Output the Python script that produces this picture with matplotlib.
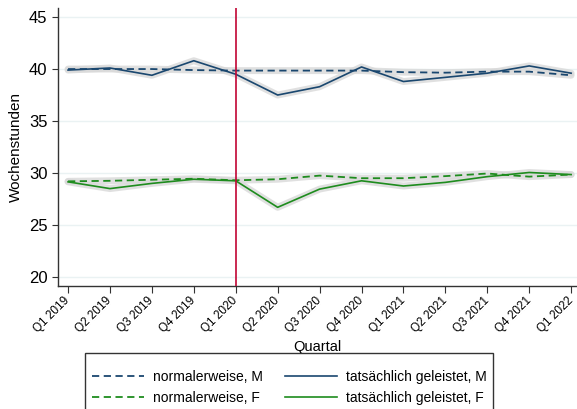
import matplotlib
matplotlib.use("Agg")
import matplotlib.pyplot as plt
from matplotlib.patches import Rectangle
import numpy as np

plt.rcParams["font.family"] = ["Liberation Sans", "DejaVu Sans"]

quarters = ["Q1 2019", "Q2 2019", "Q3 2019", "Q4 2019", "Q1 2020", "Q2 2020", "Q3 2020",
            "Q4 2020", "Q1 2021", "Q2 2021", "Q3 2021", "Q4 2021", "Q1 2022"]
normal_m = [40.0, 40.0, 40.0, 39.9, 39.85, 39.85, 39.85, 39.85, 39.7, 39.65, 39.75, 39.75, 39.4]
actual_m = [39.9, 40.1, 39.4, 40.8, 39.5, 37.5, 38.3, 40.2, 38.8, 39.2, 39.6, 40.3, 39.6]
normal_f = [29.2, 29.25, 29.35, 29.45, 29.3, 29.4, 29.75, 29.5, 29.5, 29.7, 29.95, 29.65, 29.85]
actual_f = [29.15, 28.5, 29.0, 29.4, 29.25, 26.7, 28.45, 29.25, 28.75, 29.1, 29.65, 30.05, 29.85]

blue = "#1a476f"
green = "#1e8c1e"
red = "#c10534"
x = np.arange(len(quarters))

fig = plt.figure(figsize=(5.77, 4.09), dpi=100)
ax = fig.add_axes([0.1005, 0.3007, 0.8995, 0.6797])

# light gray halo behind each line
for ys in (normal_m, actual_m, normal_f, actual_f):
    ax.plot(x, ys, color="#d9d9d9", lw=5, alpha=0.8, solid_capstyle="round", zorder=2)

l1, = ax.plot(x, normal_m, color=blue, lw=1.3, ls=(0, (4, 2.5)), zorder=3)
l2, = ax.plot(x, actual_m, color=blue, lw=1.2, zorder=3)
l3, = ax.plot(x, normal_f, color=green, lw=1.3, ls=(0, (4, 2.5)), zorder=3)
l4, = ax.plot(x, actual_f, color=green, lw=1.2, zorder=3)

ax.axvline(4, color=red, lw=1.2, zorder=4)

ax.set_ylim(19.13, 45.87)
ax.set_xlim(-0.24, 12.14)
ax.set_yticks([20, 25, 30, 35, 40, 45])
ax.set_xticks(x)
ax.set_xticklabels(quarters, rotation=45, ha="right", va="center",
                   rotation_mode="anchor", fontsize=8.5)
ax.tick_params(axis="y", labelsize=12, length=4, width=0.8, color="#333333")
ax.tick_params(axis="x", length=5, width=0.8, color="#333333", pad=4)
ax.yaxis.grid(True, color="#eaf2f3", lw=1)
ax.set_axisbelow(True)
for s in ("top", "right"):
    ax.spines[s].set_visible(False)
for s in ("left", "bottom"):
    ax.spines[s].set_color("#333333")
    ax.spines[s].set_linewidth(1)

ax.set_ylabel("Wochenstunden", fontsize=11)
ax.set_xlabel("Quartal", fontsize=10.5, labelpad=4)

# legend entries ordered column-wise (M row first, F row second)
leg = fig.legend([l1, l3, l2, l4],
                 ["normalerweise, M", "normalerweise, F",
                  "tatsächlich geleistet, M", "tatsächlich geleistet, F"],
                 ncol=2, loc="center left", bbox_to_anchor=(0.14, 0.053),
                 fontsize=10, frameon=False, handlelength=3.75, handletextpad=0.65,
                 columnspacing=1.6, borderpad=0.3, labelspacing=0.5)

# legend frame extending to the figure bottom
fig.patches.append(Rectangle((85 / 577, -0.01), (493 - 85) / 577, (409 - 353) / 409 + 0.01,
                             transform=fig.transFigure, fill=False,
                             edgecolor="#333333", lw=1))

fig.savefig("out.png", dpi=100)
